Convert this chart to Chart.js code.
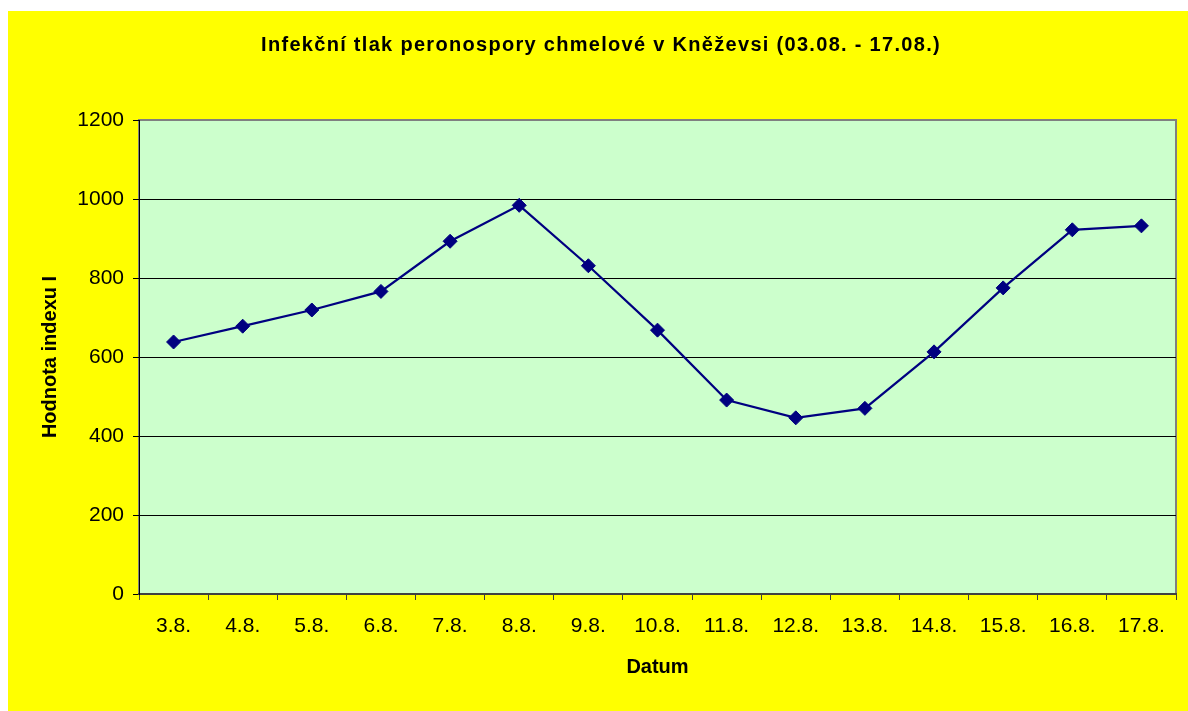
<!DOCTYPE html>
<html>
<head>
<meta charset="utf-8">
<script src="https://cdn.jsdelivr.net/npm/chart.js@4.4.1/dist/chart.umd.min.js"></script>
<style>
    html, body { margin: 0; padding: 0; background: #ffffff; }
    #wrap { position: absolute; left: 8px; top: 11px; width: 1180px; height: 700px; }
</style>
</head>
<body>
<div id="wrap"><canvas id="infChart" width="1180" height="700"></canvas></div>
<script>
const chartTitle = 'Infekční tlak peronospory chmelové v Kněževsi (03.08. - 17.08.)';
const xTitle = 'Datum';
const yTitle = 'Hodnota indexu I';
const dates = ['3.8.', '4.8.', '5.8.', '6.8.', '7.8.', '8.8.', '9.8.', '10.8.', '11.8.', '12.8.', '13.8.', '14.8.', '15.8.', '16.8.', '17.8.'];
const indexValues = [638, 678, 719, 766, 893, 984, 831, 668, 491, 446, 470, 613, 775, 922, 932];
const yTicks = [0, 200, 400, 600, 800, 1000, 1200];

const fontFamily = 'Arial, "Liberation Sans", sans-serif';

// Yellow chart background, green plot area and grey plot border
const backgroundPlugin = {
    id: 'backgroundPlugin',
    beforeDraw(chart)
    {
        const { ctx, chartArea: { left, top, width, height } } = chart;
        ctx.save();
        ctx.fillStyle = '#ffff00';
        ctx.fillRect(0, 0, chart.width, chart.height);
        ctx.fillStyle = '#ccffcc';
        ctx.fillRect(left, top, width, height);
        ctx.strokeStyle = '#808080';
        ctx.lineWidth = 2;
        ctx.strokeRect(left, top, width, height);
        ctx.restore();
    }
};

// Title drawn with a little letter spacing, like the original
const titlePlugin = {
    id: 'titlePlugin',
    afterDraw(chart)
    {
        const ctx = chart.ctx;
        ctx.save();
        ctx.font = 'bold 20px ' + fontFamily;
        ctx.fillStyle = '#000000';
        ctx.textAlign = 'center';
        ctx.textBaseline = 'middle';
        if ('letterSpacing' in ctx) ctx.letterSpacing = '1.3px';
        ctx.fillText(chartTitle, chart.width / 2 + 3, 34);
        ctx.restore();
    }
};

var ctx = document.getElementById('infChart').getContext('2d');

new Chart(ctx, {
    type: 'line',
    data: {
        labels: dates,
        datasets: [{
            label: yTitle,
            data: indexValues,
            borderColor: '#000080',
            backgroundColor: '#000080',
            borderWidth: 2.2,
            tension: 0,
            fill: false,
            pointStyle: 'rectRot',
            pointRadius: 7,
            pointBorderWidth: 1,
            pointBackgroundColor: '#000080',
            pointBorderColor: '#000080'
        }]
    },
    options: {
        responsive: false,
        animation: false,
        layout: {
            padding: { top: 109, right: 12, bottom: 0, left: 0 }
        },
        plugins: {
            legend: { display: false },
            title: { display: false },
            tooltip: { enabled: false }
        },
        scales: {
            x: {
                offset: true,
                grid: {
                    offset: true,
                    drawOnChartArea: false,
                    drawTicks: true,
                    tickLength: 6,
                    color: '#404040'
                },
                border: { display: true, color: '#404040', width: 2 },
                ticks: {
                    color: '#000000',
                    font: { family: fontFamily, size: 21 },
                    padding: 14,
                    maxRotation: 0,
                    autoSkip: false
                },
                title: {
                    display: true,
                    text: xTitle,
                    color: '#000000',
                    font: { family: fontFamily, size: 20, weight: 'bold' },
                    padding: { top: 0, bottom: 32 }
                },
                afterFit(scale) { scale.height = 117; }
            },
            y: {
                min: 0,
                max: 1200,
                afterBuildTicks(scale) { scale.ticks = yTicks.map(v => ({ value: v })); },
                grid: {
                    color: (c) => (c.tick && c.tick.value === 1200) ? '#808080' : '#000000',
                    tickColor: '#000000',
                    tickLength: 6,
                    lineWidth: 1
                },
                border: { display: true, color: '#000000', width: 1 },
                ticks: {
                    color: '#000000',
                    font: { family: fontFamily, size: 21 },
                    padding: 9,
                    callback: (value) => String(value)
                },
                title: {
                    display: true,
                    text: yTitle,
                    color: '#000000',
                    font: { family: fontFamily, size: 20, weight: 'bold' },
                    padding: { top: 30, bottom: 0 }
                },
                afterFit(scale) { scale.width = 131; }
            }
        }
    },
    plugins: [backgroundPlugin, titlePlugin]
});
</script>
</body>
</html>
